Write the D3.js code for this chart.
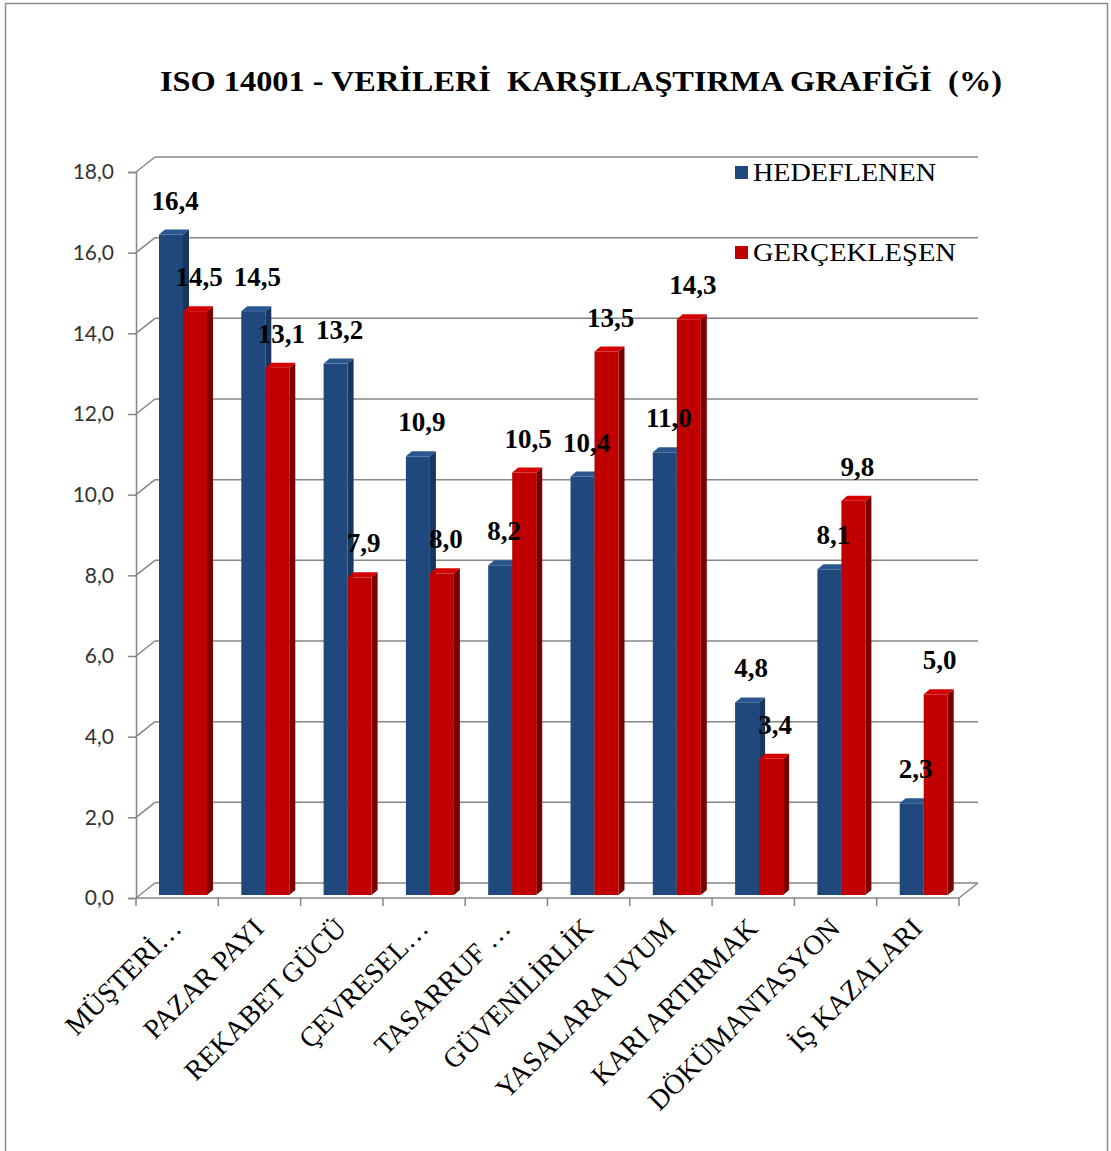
<!DOCTYPE html>
<html lang="tr">
<head>
<meta charset="UTF-8">
<title>ISO 14001 grafik</title>
<script src="https://cdn.jsdelivr.net/npm/d3@7/dist/d3.min.js"></script>
<style>
  body{margin:0;background:#fff;}
  text{white-space:pre;}
</style>
</head>
<body>
<script>
    // veriler
    var categories=["MÜŞTERİ…","PAZAR PAYI","REKABET GÜCÜ","ÇEVRESEL…","TASARRUF …","GÜVENİLİRLİK","YASALARA UYUM","KARI ARTIRMAK","DÖKÜMANTASYON","İŞ KAZALARI"];
    var hedeflenen=[16.4,14.5,13.2,10.9,8.2,10.4,11.0,4.8,8.1,2.3];
    var gerceklesen=[14.5,13.1,7.9,8.0,10.5,13.5,14.3,3.4,9.8,5.0];
    var seriesNames=["HEDEFLENEN","GERÇEKLEŞEN"];
    var yTicks=[0,2,4,6,8,10,12,14,16,18];

    var width=1111,height=1151;
    var depth={dx:19,dy:-15};   // arka duvar kayması
    var bar3d={dx:6,dy:-5};     // çubuk derinliği
    var colors=[{front:"#1F497D",side:"#17375E",top:"#2A5790"},{front:"#C00000",side:"#7A0000",top:"#D40000"}];
    var serif="'Liberation Serif','Times New Roman',serif";

    var svg=d3.select("body").append("svg")
        .attr("width",width).attr("height",height);

    // çerçeve
    svg.append("rect").attr("x",5.5).attr("y",3.5).attr("width",1102).attr("height",1170)
        .attr("fill","none").attr("stroke","#8c8c8c").attr("stroke-width",1.5);

    var xScale=d3.scaleBand().domain(d3.range(categories.length)).range([136,959]);
    var yScale=d3.scaleLinear().domain([0,18]).range([898,172]);
    var fmt=function(d){return d3.format(".1f")(d).replace(".",",");};

    // arka ızgara çizgileri + sol duvar köşegenleri
    var grid=svg.append("g").attr("stroke","#868686").attr("stroke-width",1.5).attr("fill","none");
    yTicks.forEach(function(t){
        var y=yScale(t);
        grid.append("line").attr("x1",136).attr("y1",y).attr("x2",136+depth.dx).attr("y2",y+depth.dy);
        grid.append("line").attr("x1",136+depth.dx).attr("y1",y+depth.dy).attr("x2",959+depth.dx).attr("y2",y+depth.dy);
    });
    // zemin sağ köşegen
    grid.append("line").attr("x1",959).attr("y1",yScale(0)).attr("x2",959+depth.dx).attr("y2",yScale(0)+depth.dy);

    // y ekseni
    var yAxis=d3.axisLeft(yScale).tickValues(yTicks).tickFormat(fmt).tickSize(8).tickPadding(14);
    var gy=svg.append("g").attr("transform","translate(136,0)").call(yAxis);
    gy.select(".domain").attr("stroke","#868686").attr("stroke-width",1.5);
    gy.selectAll(".tick line").attr("stroke","#868686").attr("stroke-width",1.5);
    gy.selectAll(".tick text").attr("font-family","Lato, 'Open Sans', sans-serif").attr("font-size",21).attr("fill","#333");

    // x ekseni (Excel gibi: işaretler kategori sınırlarında)
    var gx=svg.append("g").attr("stroke","#868686").attr("stroke-width",1.5);
    gx.append("line").attr("x1",136).attr("y1",yScale(0)).attr("x2",959).attr("y2",yScale(0));
    d3.range(categories.length+1).forEach(function(i){
        var x=136+i*xScale.step();
        gx.append("line").attr("x1",x).attr("y1",yScale(0)).attr("x2",x).attr("y2",yScale(0)+8);
    });

    svg.append("g").selectAll("text").data(categories).enter().append("text")
        .attr("transform",function(d,i){
            return "translate("+(xScale(i)+xScale.bandwidth()/2+6)+","+930+") rotate(-45)";
        })
        .attr("text-anchor","end")
        .attr("font-family",serif)
        .attr("font-size",28)
        .attr("fill","#000")
        .text(function(d){return d;});

    // 3B çubuklar
    var barW=24, barOff=23;
    function barY(v){return yScale(v)-2;}
    var base=yScale(0)-3;
    var series=[hedeflenen,gerceklesen];
    var bars=svg.append("g");
    series.forEach(function(vals,s){
        var c=colors[s];
        var g=bars.append("g");
        vals.forEach(function(v,i){
            var x=xScale(i)+barOff+s*barW, y=barY(v);
            // yan yüz
            g.append("polygon").attr("fill",c.side)
                .attr("points",[[x+barW,y],[x+barW+bar3d.dx,y+bar3d.dy],[x+barW+bar3d.dx,base+bar3d.dy],[x+barW,base]].join(" "));
            // üst yüz
            g.append("polygon").attr("fill",c.top)
                .attr("points",[[x,y],[x+barW,y],[x+barW+bar3d.dx,y+bar3d.dy],[x+bar3d.dx,y+bar3d.dy]].join(" "));
            // ön yüz
            g.append("rect").attr("x",x).attr("y",y).attr("width",barW).attr("height",base-y).attr("fill",c.front);
        });
    });

    // değer etiketleri
    var labels=svg.append("g").attr("font-family",serif)
        .attr("font-weight","bold").attr("font-size",27).attr("text-anchor","middle").attr("fill","#000");
    series.forEach(function(vals,s){
        vals.forEach(function(v,i){
            var x=xScale(i)+barOff+s*barW+barW/2+4;
            labels.append("text").attr("x",x).attr("y",barY(v)-25).text(fmt(v));
        });
    });

    // başlık
    svg.append("text").attr("x",160).attr("y",91)
        .attr("font-family",serif)
        .attr("font-weight","bold").attr("font-size",29)
        .attr("textLength",842).attr("lengthAdjust","spacingAndGlyphs")
        .text("ISO 14001 - VERİLERİ  KARŞILAŞTIRMA GRAFİĞİ  (%)");

    // lejant
    var legend=svg.append("g");
    var legendLen=[183,203];
    seriesNames.forEach(function(n,s){
        var y=172+s*80;
        legend.append("rect").attr("x",735).attr("y",y-6).attr("width",13).attr("height",13).attr("fill",colors[s].front);
        legend.append("text").attr("x",753).attr("y",y+9)
            .attr("font-family",serif).attr("font-size",26)
            .attr("textLength",legendLen[s]).attr("lengthAdjust","spacingAndGlyphs")
            .text(n);
    });
</script>
</body>
</html>
